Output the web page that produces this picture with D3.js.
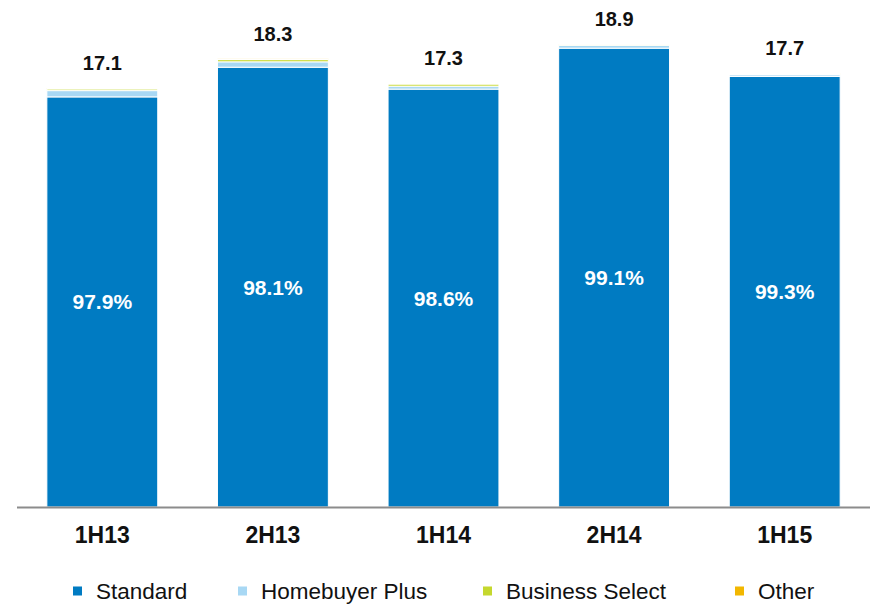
<!DOCTYPE html>
<html>
<head>
<meta charset="utf-8">
<script src="https://cdn.jsdelivr.net/npm/d3@7"></script>
<style>
  body { margin: 0; background: #fff; }
  svg text { font-family: "Liberation Sans", Arial, sans-serif; }
</style>
</head>
<body>
<svg id="chart" width="873" height="605"></svg>
<script>
// periods and totals
const periods = ['1H13', '2H13', '1H14', '2H14', '1H15'];
const totals  = [17.1, 18.3, 17.3, 18.9, 17.7];

// share of each product (%)
const series   = ['Standard', 'Homebuyer Plus', 'Business Select', 'Other'];
const standard = [97.9, 98.1, 98.6, 99.1, 99.3];
const homebuyer = [1.5, 1.2, 0.7, 0.6, 0.4];
const business  = [0.4, 0.5, 0.5, 0.2, 0.2];
const other     = [0.2, 0.2, 0.2, 0.1, 0.1];

const colors = ['#007BC2', '#A8D8F4', '#C5D82E', '#F2B700'];

const base = 507;
const svg = d3.select('#chart');

const x = d3.scaleBand().domain(periods).range([17, 870]).paddingInner(0.35).paddingOuter(0.175);
const y = d3.scaleLinear().domain([0, 18.9]).range([base, 44]);

const rows = periods.map((p, i) => ({
  period: p, total: totals[i],
  vals: [standard[i], homebuyer[i], business[i], other[i]].map(v => v / 100 * totals[i])
}));

const stackData = rows.map(r => {
  const o = { period: r.period };
  series.forEach((s, k) => o[s] = r.vals[k]);
  return o;
});
const stacked = d3.stack().keys(series)(stackData);

svg.append('g').selectAll('g').data(stacked).join('g')
  .attr('fill', (d, k) => colors[k])
  .selectAll('rect').data(d => d).join('rect')
  .attr('x', d => x(d.data.period))
  .attr('width', x.bandwidth())
  .attr('y', d => y(d[1]))
  .attr('height', d => Math.max(0, y(d[0]) - y(d[1])))
  .attr('stroke', '#fff')
  .attr('stroke-width', 1);

// axis line
svg.append('line')
  .attr('x1', 17).attr('x2', 870).attr('y1', base + 0.5).attr('y2', base + 0.5)
  .attr('stroke', '#8c8c8c').attr('stroke-width', 2);

// totals
svg.append('g').selectAll('text').data(rows).join('text')
  .attr('x', d => x(d.period) + x.bandwidth() / 2)
  .attr('y', d => y(d.total) - 18)
  .attr('text-anchor', 'middle')
  .attr('font-size', 20).attr('font-weight', 'bold').attr('fill', '#111')
  .text(d => d.total.toFixed(1));

// inside labels
svg.append('g').selectAll('text').data(stacked[0]).join('text')
  .attr('x', d => x(d.data.period) + x.bandwidth() / 2)
  .attr('y', d => (y(d[0]) + y(d[1])) / 2 + 7.5)
  .attr('text-anchor', 'middle')
  .attr('font-size', 21).attr('font-weight', 'bold').attr('fill', '#fff')
  .text((d, i) => standard[i].toFixed(1) + '%');

// category labels
svg.append('g').selectAll('text').data(periods).join('text')
  .attr('x', d => x(d) + x.bandwidth() / 2)
  .attr('y', 543)
  .attr('text-anchor', 'middle')
  .attr('font-size', 23).attr('font-weight', 'bold').attr('fill', '#111')
  .text(d => d);

// legend
const legX = [73, 238, 483, 735];
const leg = svg.append('g').selectAll('g').data(series).join('g')
  .attr('transform', (d, i) => `translate(${legX[i]},591)`);
leg.append('rect').attr('x', 0).attr('y', -4.5).attr('width', 9).attr('height', 9)
  .attr('fill', (d, i) => colors[i]);
leg.append('text').attr('x', 23).attr('y', 8)
  .attr('font-size', 22.5).attr('fill', '#111')
  .text(d => d);
</script>
</body>
</html>
